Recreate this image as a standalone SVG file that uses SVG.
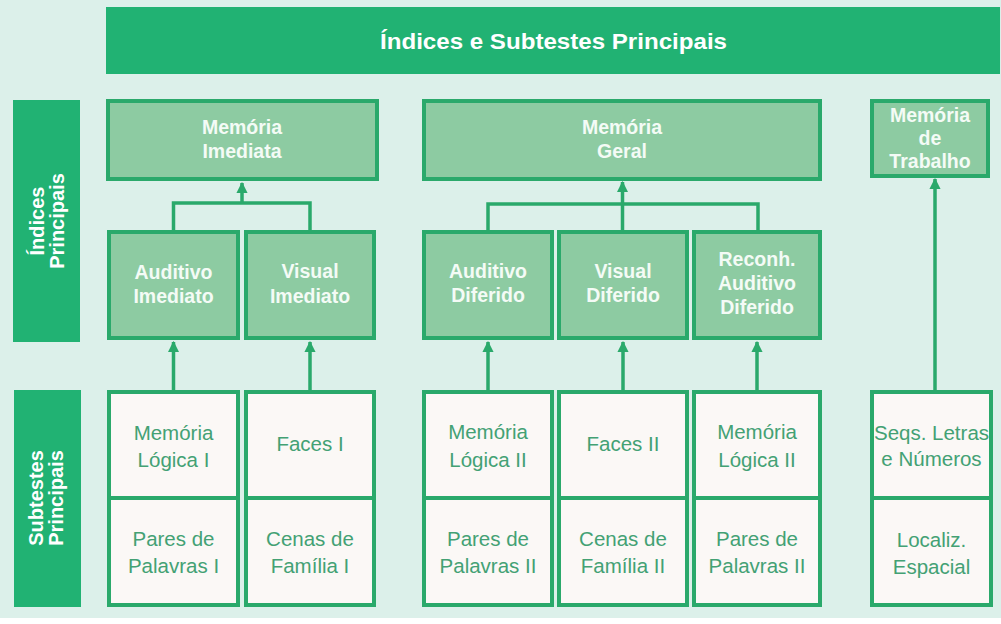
<svg xmlns="http://www.w3.org/2000/svg" width="1001" height="624" viewBox="0 0 1001 624">
<style>
.bg{fill:#dcf0ea}
.band{fill:#21b273}
.idx{fill:#8dcba2;stroke:#2aa96b;stroke-width:4}
.sub{fill:#fbf8f6;stroke:#2aa96b;stroke-width:4}
.hd{font-family:"Liberation Sans",Arial,sans-serif;font-weight:bold;fill:#ffffff;text-anchor:middle}
.it{font-family:"Liberation Sans",Arial,sans-serif;font-weight:bold;font-size:19.5px;fill:#f4fbf6;text-anchor:middle}
.st{font-family:"Liberation Sans",Arial,sans-serif;font-size:20.5px;fill:#43a174;text-anchor:middle}
.cn{fill:none;stroke:#2aa96b;stroke-width:3.5}
</style>
<defs>
<marker id="ah" viewBox="0 0 10 10" refX="9" refY="5" markerWidth="3.2" markerHeight="3.2" orient="auto" markerUnits="strokeWidth">
<path d="M0,0 L10,5 L0,10 z" fill="#2aa96b"/>
</marker>
</defs>
<rect class="bg" x="0" y="0" width="1001" height="624"/>
<rect x="0" y="618" width="1001" height="6" fill="#ffffff"/>

<g id="title">
<rect class="band" x="106" y="7" width="894" height="67"/>
<text class="hd" x="553.5" y="49" font-size="22px" textLength="347" lengthAdjust="spacingAndGlyphs">Índices e Subtestes Principais</text>
</g>

<g id="label-indices">
<rect class="band" x="13" y="100" width="67" height="242"/>
<text class="hd" font-size="20px" transform="translate(44,221) rotate(-90)">Índices</text>
<text class="hd" font-size="20px" transform="translate(64,221) rotate(-90)">Principais</text>
</g>
<g id="label-subtestes">
<rect class="band" x="14" y="390" width="67" height="217"/>
<text class="hd" font-size="20px" transform="translate(43,498) rotate(-90)">Subtestes</text>
<text class="hd" font-size="20px" transform="translate(63,498) rotate(-90)">Principais</text>
</g>

<g id="connectors">
<path class="cn" d="M173.5,230 V203 H310 V230"/>
<path class="cn" d="M242,203 V183" marker-end="url(#ah)"/>
<path class="cn" d="M488,230 V204 H758 V230"/>
<path class="cn" d="M622.5,230 V182" marker-end="url(#ah)"/>
<path class="cn" d="M173.5,390 V342" marker-end="url(#ah)"/>
<path class="cn" d="M310,390 V342" marker-end="url(#ah)"/>
<path class="cn" d="M488,390 V342" marker-end="url(#ah)"/>
<path class="cn" d="M623,390 V342" marker-end="url(#ah)"/>
<path class="cn" d="M757,390 V342" marker-end="url(#ah)"/>
<path class="cn" d="M935,390 V179" marker-end="url(#ah)"/>
</g>

<g id="memoria-imediata">
<rect class="idx" x="108" y="101" width="269" height="78"/>
<text class="it" x="242" y="134">Memória</text>
<text class="it" x="242" y="158">Imediata</text>
</g>
<g id="memoria-geral">
<rect class="idx" x="424" y="101" width="396" height="78"/>
<text class="it" x="622" y="134">Memória</text>
<text class="it" x="622" y="158">Geral</text>
</g>
<g id="memoria-trabalho">
<rect class="idx" x="872" y="101" width="116" height="75"/>
<text class="it" x="930" y="122">Memória</text>
<text class="it" x="930" y="145">de</text>
<text class="it" x="930" y="168">Trabalho</text>
</g>

<g id="auditivo-imediato">
<rect class="idx" x="109" y="232" width="129" height="106"/>
<text class="it" x="173.5" y="279">Auditivo</text>
<text class="it" x="173.5" y="303">Imediato</text>
</g>
<g id="visual-imediato">
<rect class="idx" x="246" y="232" width="128" height="106"/>
<text class="it" x="310" y="278">Visual</text>
<text class="it" x="310" y="303">Imediato</text>
</g>
<g id="auditivo-diferido">
<rect class="idx" x="424" y="232" width="128" height="106"/>
<text class="it" x="488" y="278">Auditivo</text>
<text class="it" x="488" y="302">Diferido</text>
</g>
<g id="visual-diferido">
<rect class="idx" x="559" y="232" width="128" height="106"/>
<text class="it" x="623" y="278">Visual</text>
<text class="it" x="623" y="302">Diferido</text>
</g>
<g id="reconh-auditivo-diferido">
<rect class="idx" x="694" y="232" width="126" height="106"/>
<text class="it" x="757" y="266">Reconh.</text>
<text class="it" x="757" y="290">Auditivo</text>
<text class="it" x="757" y="314">Diferido</text>
</g>

<g id="memoria-logica-i">
<rect class="sub" x="109" y="392" width="129" height="106"/>
<text class="st" x="173.5" y="440">Memória</text>
<text class="st" x="173.5" y="467">Lógica I</text>
</g>
<g id="pares-palavras-i">
<rect class="sub" x="109" y="498" width="129" height="107"/>
<text class="st" x="173.5" y="546">Pares de</text>
<text class="st" x="173.5" y="573">Palavras I</text>
</g>
<g id="faces-i">
<rect class="sub" x="246" y="392" width="128" height="106"/>
<text class="st" x="310" y="451">Faces I</text>
</g>
<g id="cenas-familia-i">
<rect class="sub" x="246" y="498" width="128" height="107"/>
<text class="st" x="310" y="546">Cenas de</text>
<text class="st" x="310" y="573">Família I</text>
</g>

<g id="memoria-logica-ii-a">
<rect class="sub" x="424" y="392" width="128" height="106"/>
<text class="st" x="488" y="439">Memória</text>
<text class="st" x="488" y="467">Lógica II</text>
</g>
<g id="pares-palavras-ii-a">
<rect class="sub" x="424" y="498" width="128" height="107"/>
<text class="st" x="488" y="546">Pares de</text>
<text class="st" x="488" y="573">Palavras II</text>
</g>
<g id="faces-ii">
<rect class="sub" x="559" y="392" width="128" height="106"/>
<text class="st" x="623" y="451">Faces II</text>
</g>
<g id="cenas-familia-ii">
<rect class="sub" x="559" y="498" width="128" height="107"/>
<text class="st" x="623" y="546">Cenas de</text>
<text class="st" x="623" y="573">Família II</text>
</g>
<g id="memoria-logica-ii-b">
<rect class="sub" x="694" y="392" width="126" height="106"/>
<text class="st" x="757" y="439">Memória</text>
<text class="st" x="757" y="467">Lógica II</text>
</g>
<g id="pares-palavras-ii-b">
<rect class="sub" x="694" y="498" width="126" height="107"/>
<text class="st" x="757" y="546">Pares de</text>
<text class="st" x="757" y="573">Palavras II</text>
</g>

<g id="seqs-letras-numeros">
<rect class="sub" x="872" y="392" width="119" height="106"/>
<text class="st" x="931.5" y="440">Seqs. Letras</text>
<text class="st" x="931.5" y="466">e Números</text>
</g>
<g id="localiz-espacial">
<rect class="sub" x="872" y="498" width="119" height="107"/>
<text class="st" x="931.5" y="547">Localiz.</text>
<text class="st" x="931.5" y="574">Espacial</text>
</g>
</svg>
